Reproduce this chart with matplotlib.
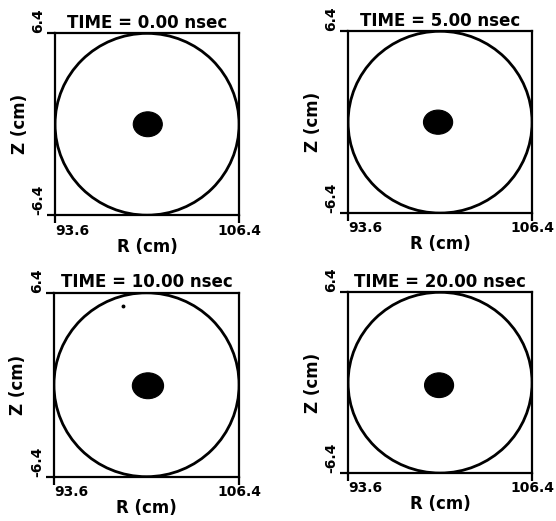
import matplotlib.pyplot as plt
from matplotlib.patches import Ellipse

# Data
times = ['0.00', '5.00', '10.00', '20.00']
r_min, r_max = 93.6, 106.4
z_min, z_max = -6.4, 6.4
wall_r, wall_z, wall_radius = 100.0, 0.0, 6.4

# beam cross-section (center, full width, full height in cm)
beam_r = [100.05, 99.86, 100.10, 99.93]
beam_z = [0.0, 0.0, -0.07, -0.18]
beam_w = [2.02, 2.03, 2.16, 2.02]
beam_h = [1.75, 1.70, 1.80, 1.75]

# stray particles seen outside the beam
stray_r = [[], [], [98.4], []]
stray_z = [[], [], [5.5], []]

# axes boxes in figure fractions
boxes = [
    [0.099, 0.587, 0.331, 0.349],
    [0.626, 0.591, 0.331, 0.349],
    [0.097, 0.085, 0.333, 0.353],
    [0.626, 0.092, 0.331, 0.347],
]

fig = plt.figure(figsize=(5.56, 5.21), dpi=100, facecolor='white')
plt.rcParams['font.family'] = ['DejaVu Sans']
plt.rcParams['font.weight'] = 'bold'

for i, t in enumerate(times):
    ax = fig.add_axes(boxes[i])
    ax.set_xlim(r_min, r_max)
    ax.set_ylim(z_min, z_max)

    # conducting wall
    ax.add_patch(Ellipse((wall_r, wall_z), 2 * wall_radius, 2 * wall_radius,
                         fill=False, edgecolor='black', linewidth=2.0))
    # beam
    ax.add_patch(Ellipse((beam_r[i], beam_z[i]), beam_w[i], beam_h[i],
                         facecolor='black', edgecolor='black', linewidth=0.8))
    if stray_r[i]:
        ax.plot(stray_r[i], stray_z[i], 'o', color='black', markersize=1.8)

    for s in ax.spines.values():
        s.set_linewidth(1.6)

    ax.set_xticks([r_min, r_max])
    ax.set_xticklabels(['93.6', '106.4'], fontsize=10, fontweight='bold')
    ax.set_yticks([z_min, z_max])
    ax.set_yticklabels(['-6.4', '6.4'], fontsize=10, fontweight='bold',
                       rotation=90, va='bottom')
    ax.tick_params(direction='out', length=6, width=1.6)
    ax.tick_params(axis='x', pad=0)
    ax.tick_params(axis='y', pad=1)
    ax.get_xticklabels()[0].set_ha('left')

    ax.set_xlabel('R (cm)', fontsize=12, fontweight='bold', labelpad=0)
    ax.set_ylabel('Z (cm)', fontsize=12, fontweight='bold', labelpad=2)
    ax.set_title('TIME = ' + t + ' nsec', fontsize=12, fontweight='bold', pad=4)

plt.savefig('out.png', dpi=100, facecolor='white')
